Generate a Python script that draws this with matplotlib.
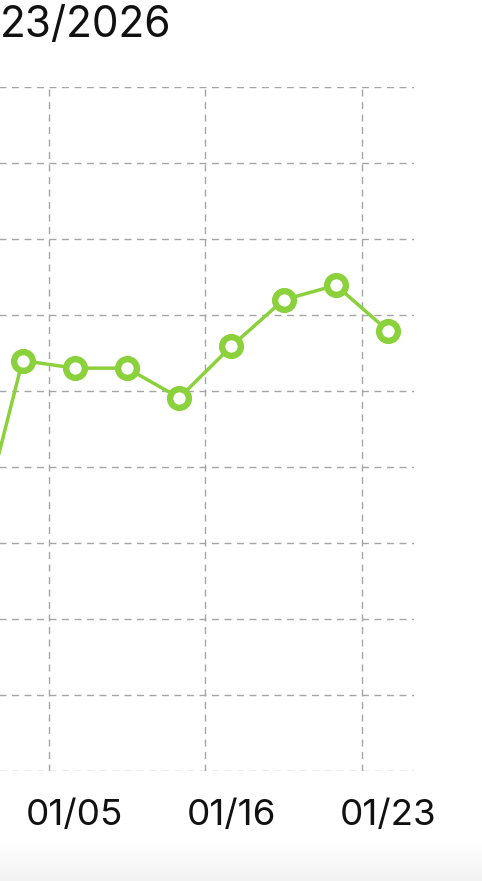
import numpy as np
import matplotlib
matplotlib.use("Agg")
import matplotlib.pyplot as plt

plt.rcParams['font.family'] = ['Inter', 'DejaVu Sans']

# data
dates = ['01/01', '01/03', '01/05', '01/08', '01/12', '01/16', '01/19', '01/21', '01/23']
values = [26.9, 54.0, 53.0, 53.0, 49.1, 55.9, 62.0, 63.9, 57.9]
shown_labels = ['01/05', '01/16', '01/23']
title = '23/2026'

green = '#8bd13b'

fig = plt.figure(figsize=(4.82, 8.81), dpi=100)

# faint shadow at bottom of screen
bg = fig.add_axes([0, 0, 1, 0.042])
shade = np.linspace(1.0, 0.95, 50)
grad = np.dstack([shade, shade, shade]).reshape(50, 1, 3)
bg.imshow(grad, aspect='auto', extent=[0, 1, 0, 1])
bg.axis('off')

ax = fig.add_axes([-0.1158, 0.1249, 0.9753, 0.7764])
x = np.arange(len(dates))
ax.plot(x, values, '-', color=green, lw=2.5, zorder=3)
ax.plot(x, values, 'o', color=green, ms=13.5, mfc='white', mec=green, mew=4.6, zorder=4)

ax.set_xlim(-0.5, len(dates) - 0.5)
ax.set_ylim(0, 90)

# vertical grid between categories, every third
for gx in [-1.5, 1.5, 4.5, 7.5]:
    ax.axvline(gx, color='#a5a5a5', lw=1, ls=(0, (5, 4)), zorder=1)
for gy in range(0, 91, 10):
    ax.axhline(gy, color='#a5a5a5', lw=1, ls=(0, (5, 4)), zorder=1)

ax.set_xticks([dates.index(d) for d in shown_labels])
ax.set_xticklabels(shown_labels, fontsize=26.5, color='#111111')
ax.tick_params(axis='x', length=0, pad=20)
ax.set_yticks([])
for s in ax.spines.values():
    s.set_visible(False)

fig.text(0.0, 1 - 25 / 881, title, ha='left', va='center',
         fontsize=30.5, color='#111111')

fig.savefig('out.png', dpi=100)
